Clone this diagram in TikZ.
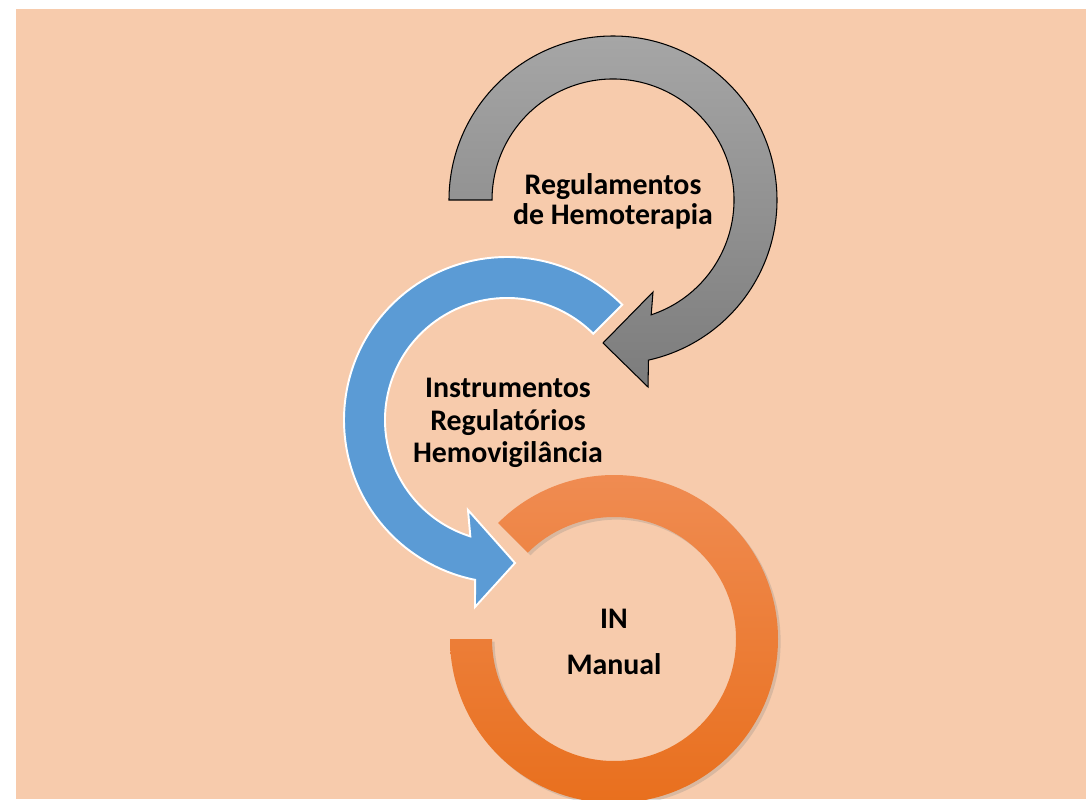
\documentclass[tikz,border=0pt]{standalone}
\usepackage{fontspec}
\setmainfont{Carlito}
\usetikzlibrary{shadows}
\definecolor{fundo}{RGB}{247,203,172}
\definecolor{cinzaclaro}{RGB}{166,166,166}
\definecolor{cinzaescuro}{RGB}{124,124,124}
\definecolor{azul}{RGB}{91,155,213}
\definecolor{laranjaclaro}{RGB}{240,141,84}
\definecolor{laranjaescuro}{RGB}{232,110,27}
\begin{document}
\begin{tikzpicture}[x=0.02cm,y=0.02cm,
    rotulo/.style={font=\bfseries\fontsize{17}{17}\selectfont, align=center, text=black}]
      \useasboundingbox (0,0) rectangle (1086,799);
      %fundo
      \fill[fundo] (16,0) rectangle (1086,790);
      %anel laranja
      \path[top color=laranjaclaro, bottom color=laranjaescuro,
        drop shadow={opacity=0.25, shadow xshift=1.5pt, shadow yshift=-1.5pt}, shift={(614,160)}]
        (135:164) arc[start angle=135, end angle=-180, radius=164]
        -- (180:122) arc[start angle=-180, end angle=135, radius=122] -- cycle;
      %seta azul
      \draw[white, line width=1.1pt, fill=azul, shift={(507,379)}]
        (45:163) arc[start angle=45, end angle=258.7, radius=163]
        -- (-32,-187) -- (8,-143) -- (-39,-90)
        -- (252.5:122) arc[start angle=252.5, end angle=45, radius=122] -- cycle;
      %seta cinza
      \draw[black, line width=0.6pt, top color=cinzaclaro, bottom color=cinzaescuro, shift={(613,599)}]
        (180:164) arc[start angle=180, end angle=-77.5, radius=164]
        -- (35,-187) -- (-10,-143) -- (40,-92)
        -- (-71.6:121) arc[start angle=-71.6, end angle=180, radius=121] -- cycle;
      %textos
      \node[rotulo] (regul) at (613,598) {Regulamentos\\de Hemoterapia};
      \node[rotulo, font=\bfseries\fontsize{17}{18.4}\selectfont] (instr) at (508,376) {Instrumentos\\Regulatórios\\Hemovigilância};
      \node[rotulo] (manual) at (614,157) {IN\\[9pt]Manual};
\end{tikzpicture}
\end{document}
